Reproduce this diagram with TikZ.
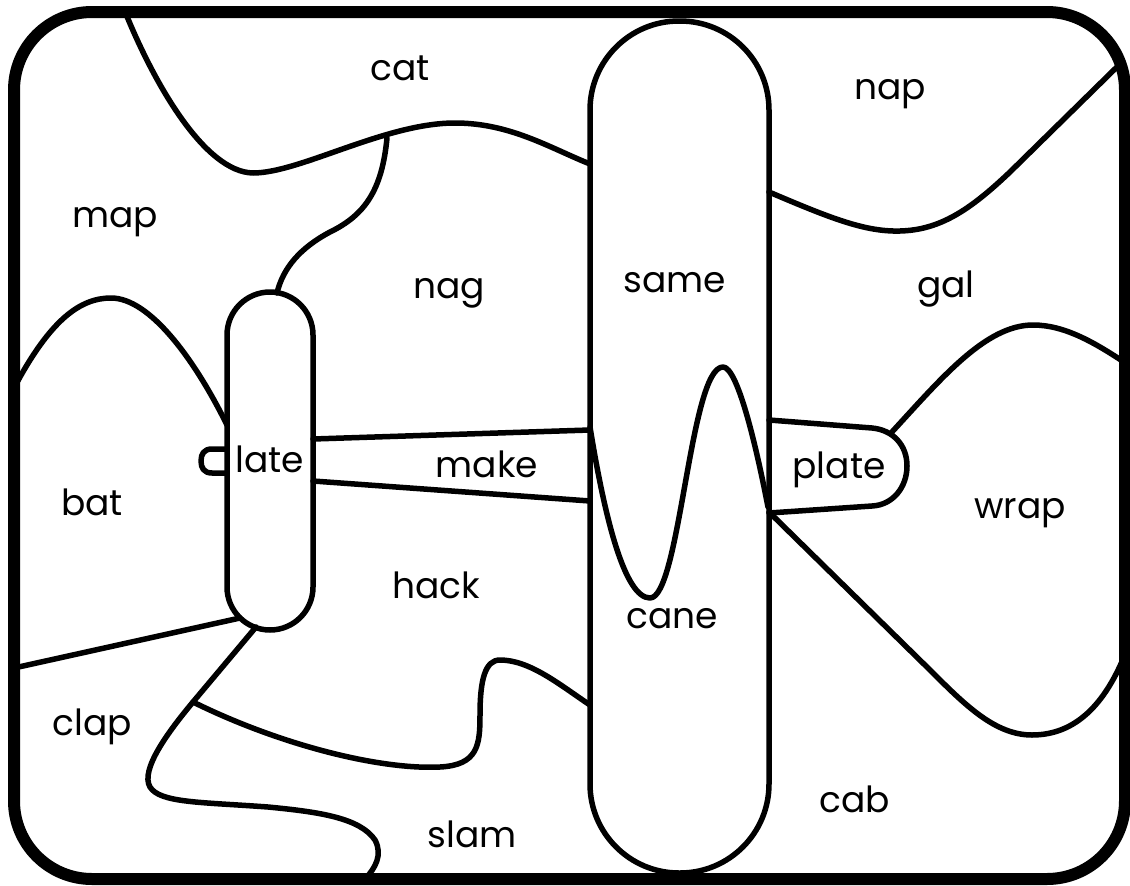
\documentclass[tikz,border=0pt]{standalone}
\usepackage{fontspec}
\setmainfont{Poppins}
\begin{document}
\begin{tikzpicture}[x=1pt,y=-1pt,line join=round,line cap=round,
  reg/.style={line width=5.5pt},
  lbl/.style={font=\fontsize{36}{40}\selectfont,inner sep=0pt,anchor=base}]
\useasboundingbox (0,0) rectangle (1130,886);
% frame
\draw[line width=12pt,rounded corners=78pt] (14,12) rectangle (1125,879);
% capsules
\draw[reg,rounded corners=89pt] (590,21) rectangle (769,873);
\draw[reg,rounded corners=43pt] (227,292) rectangle (313,630);
% late tab
\draw[reg] (227,449) -- (212,449) .. controls (204,449) and (201,454) .. (201,461)
  .. controls (201,468) and (204,473) .. (212,473) -- (227,473);
% make band
\draw[reg] (313,439) -- (590,430);
\draw[reg] (313,481) -- (590,501);
% cat boundary
\draw[reg] (126,14) .. controls (155,85) and (205,172) .. (253,173)
  .. controls (300,173) and (385,123) .. (455,123)
  .. controls (510,123) and (550,148) .. (590,164);
% map / nag
\draw[reg] (387,138) .. controls (382,190) and (365,215) .. (330,232)
  .. controls (300,248) and (283,268) .. (277,293);
% map / bat
\draw[reg] (14,388) .. controls (50,320) and (80,298) .. (111,298)
  .. controls (150,298) and (195,360) .. (227,425);
% bat / clap
\draw[reg] (14,668) -- (240,618);
% clap / hack / slam
\draw[reg] (256,627) -- (193,702) .. controls (168,732) and (140,770) .. (150,787)
  .. controls (160,803) and (200,802) .. (268,807)
  .. controls (320,812) and (360,818) .. (375,840)
  .. controls (383,855) and (375,868) .. (366,878);
\draw[reg] (193,702) .. controls (280,745) and (380,770) .. (440,767)
  .. controls (478,765) and (480,745) .. (480,715)
  .. controls (480,680) and (485,660) .. (500,660)
  .. controls (530,660) and (560,685) .. (590,705);
% same / cane wave
\draw[reg] (590,427) .. controls (605,520) and (625,598) .. (650,598)
  .. controls (680,598) and (690,367) .. (723,367)
  .. controls (737,367) and (755,440) .. (768,507);
% nap / gal
\draw[reg] (769,192) .. controls (830,218) and (865,232) .. (900,231)
  .. controls (940,230) and (970,210) .. (1010,172) -- (1122,62);
% plate
\draw[reg] (769,420) -- (872,428) .. controls (893,430) and (907,445) .. (907,466)
  .. controls (907,487) and (893,505) .. (872,506) -- (769,513);
% gal / wrap
\draw[reg] (891,433) .. controls (940,380) and (985,325) .. (1033,325)
  .. controls (1065,325) and (1095,343) .. (1124,362);
% wrap / cab
\draw[reg] (769,512) -- (930,670) .. controls (965,705) and (995,735) .. (1032,735)
  .. controls (1075,735) and (1105,705) .. (1126,652);
% labels
\node[lbl] (cat) at (400,80) {cat};
\node[lbl] (nap) at (890,99) {nap};
\node[lbl] (map) at (115,227) {map};
\node[lbl] (nag) at (449,298) {nag};
\node[lbl] (same) at (675,292) {same};
\node[lbl] (gal) at (946,297) {gal};
\node[lbl] (late) at (270,472) {late};
\node[lbl] (make) at (487,477) {make};
\node[lbl] (plate) at (839,478) {plate};
\node[lbl] (bat) at (92,515) {bat};
\node[lbl] (wrap) at (1020,518) {wrap};
\node[lbl] (hack) at (436,598) {hack};
\node[lbl] (cane) at (672,628) {cane};
\node[lbl] (clap) at (92,735) {clap};
\node[lbl] (cab) at (855,812) {cab};
\node[lbl] (slam) at (472,847) {slam};
\end{tikzpicture}
\end{document}
